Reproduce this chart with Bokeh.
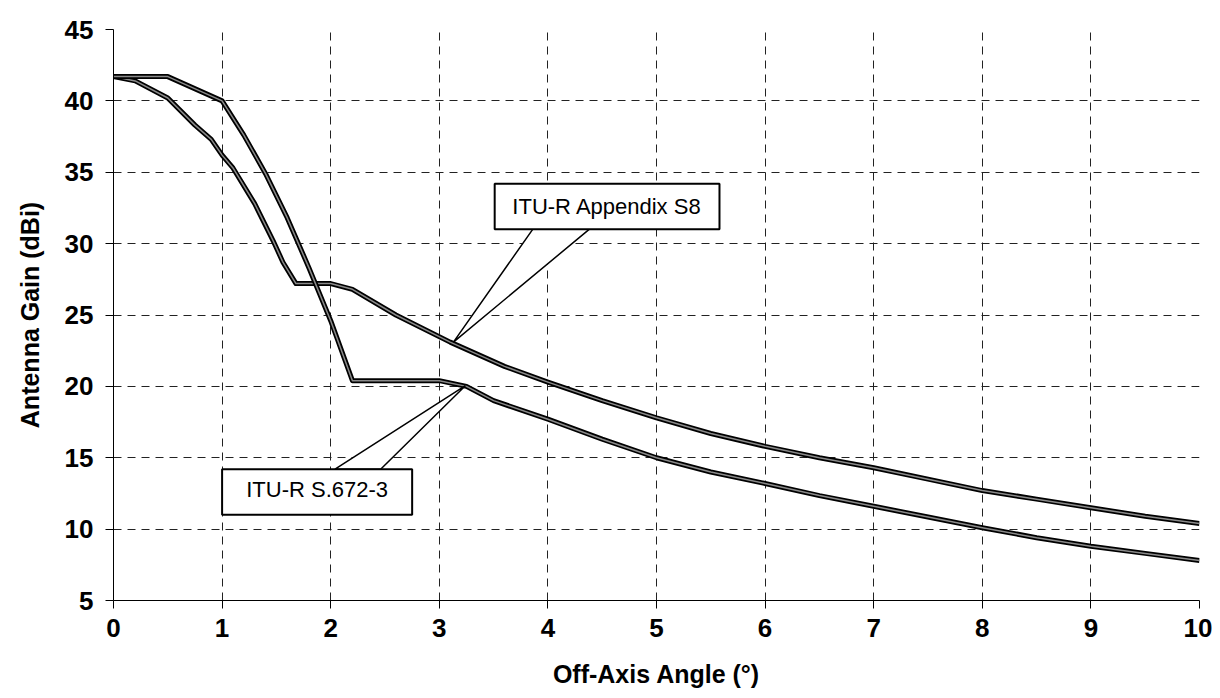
from bokeh.plotting import figure
from bokeh.models import Range1d, FixedTicker
from bokeh.core.properties import value
from bokeh.embed import file_html
from bokeh.resources import INLINE

# ---- data ----
s8_angle = [0, 0.2, 0.5, 0.75, 0.9, 1.0, 1.1, 1.3, 1.47, 1.56, 1.68, 2.0, 2.2, 2.6, 3.1,
            3.6, 4.0, 4.5, 5.0, 5.5, 6.0, 6.5, 7.0, 7.5, 8.0, 8.5, 9.0, 9.5, 10.0]
s8_gain = [41.7, 41.4, 40.2, 38.3, 37.3, 36.2, 35.3, 32.8, 30.2, 28.7, 27.2, 27.2, 26.8, 25.0, 23.1,
           21.4, 20.3, 19.0, 17.8, 16.7, 15.8, 15.0, 14.3, 13.5, 12.7, 12.1, 11.5, 10.9, 10.4]

s672_angle = [0, 0.5, 1.0, 1.2, 1.4, 1.6, 1.8, 2.0, 2.2, 3.0, 3.25, 3.5, 4.0, 4.5, 5.0,
              5.5, 6.0, 6.5, 7.0, 7.5, 8.0, 8.5, 9.0, 9.5, 10.0]
s672_gain = [41.7, 41.7, 40.0, 37.6, 34.9, 31.8, 28.3, 24.6, 20.4, 20.4, 20.0, 19.0, 17.7, 16.3, 15.0,
             14.0, 13.2, 12.35, 11.6, 10.85, 10.1, 9.4, 8.8, 8.3, 7.8]

x_ticks = [0, 1, 2, 3, 4, 5, 6, 7, 8, 9, 10]
y_ticks = [5, 10, 15, 20, 25, 30, 35, 40, 45]
x_title = "Off-Axis Angle (°)"
y_title = "Antenna Gain (dBi)"

# callout annotations (data units)
s8_label = "ITU-R Appendix S8"
s8_box = (3.51, 5.58, 31.0, 34.2)          # x0, x1, y0, y1
s8_pointer = ([3.86, 3.13, 4.38], [31.0, 23.1, 31.0])
s672_label = "ITU-R S.672-3"
s672_box = (1.0, 2.75, 11.0, 14.2)
s672_pointer = ([2.04, 3.24, 2.46], [14.2, 20.05, 14.2])

p = figure(width=1212, height=690, output_backend="svg", toolbar_location=None,
           x_range=Range1d(0, 10), y_range=Range1d(5, 45),
           min_border_left=113, min_border_right=13, min_border_top=29, min_border_bottom=87)
p.outline_line_color = None
p.background_fill_color = "white"

for ax in (p.xaxis[0], p.yaxis[0]):
    ax.major_label_text_font = "Liberation Sans"
    ax.major_label_text_font_style = "bold"
    ax.major_label_text_font_size = "26px"
    ax.major_label_text_color = "black"
    ax.axis_label_text_font = "Liberation Sans"
    ax.axis_label_text_font_style = "bold"
    ax.axis_label_text_font_size = "25px"
    ax.axis_label_text_color = "black"
    ax.axis_line_color = "black"
    ax.axis_line_width = 1
    ax.major_tick_line_color = "black"
    ax.major_tick_out = 8
    ax.major_tick_in = 0
    ax.minor_tick_line_color = None

p.xaxis.ticker = FixedTicker(ticks=x_ticks)
p.yaxis.ticker = FixedTicker(ticks=y_ticks)
p.xaxis.axis_label = x_title
p.yaxis.axis_label = y_title
p.xaxis.major_label_standoff = 10
p.yaxis.major_label_standoff = 12
p.xaxis.axis_label_standoff = 20
p.yaxis.axis_label_standoff = 18

for g in (p.xgrid[0], p.ygrid[0]):
    g.grid_line_color = "#222222"
    g.grid_line_width = 1
    g.grid_line_dash = "8 6"

# curves: dark outline with grey core (scanned look)
for xs, ys in ((s8_angle, s8_gain), (s672_angle, s672_gain)):
    p.line(xs, ys, line_color="black", line_width=5, line_join="round")
    p.line(xs, ys, line_color="#8a8a8a", line_width=1.5, line_join="round")

# callouts
for label, box, ptr, ty in ((s8_label, s8_box, s8_pointer, 32.6),
                            (s672_label, s672_box, s672_pointer, 12.75)):
    px, py = ptr
    p.patch(px, py, fill_color="white", line_color="black", line_width=1.5)
    x0, x1, y0, y1 = box
    p.patch([x0, x1, x1, x0], [y0, y0, y1, y1], fill_color="white",
            line_color="black", line_width=2)
    p.text(x=[(x0 + x1) / 2], y=[ty], text=[label], text_align="center",
           text_baseline="middle", text_font=value("Liberation Sans"),
           text_font_size="22px", text_color="black")

open("out.html", "w").write(file_html(p, INLINE))
